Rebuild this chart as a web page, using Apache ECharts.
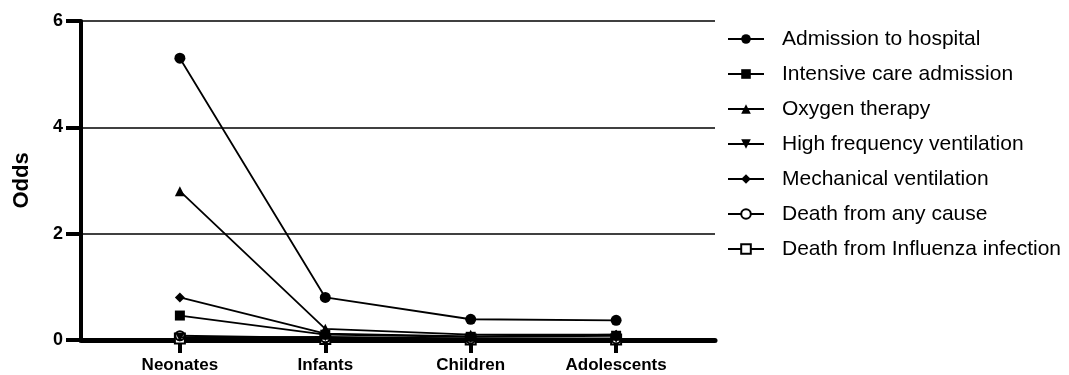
<!DOCTYPE html>
<html>
<head>
<meta charset="utf-8">
<script src="https://cdn.jsdelivr.net/npm/echarts@6/dist/echarts.min.js"></script>
<style>html,body{margin:0;padding:0;background:#fff}#c{width:1069px;height:375px}</style>
</head>
<body>
<div id="c"></div>
<script>
var categories = ['Neonates', 'Infants', 'Children', 'Adolescents'];
var yTicks = [0, 2, 4, 6];
var seriesNames = ['Admission to hospital', 'Intensive care admission', 'Oxygen therapy', 'High frequency ventilation', 'Mechanical ventilation', 'Death from any cause', 'Death from Influenza infection'];
var admission = [5.3, 0.8, 0.39, 0.37];
var intensiveCare = [0.46, 0.1, 0.06, 0.08];
var oxygen = [2.8, 0.21, 0.1, 0.1];
var highFreq = [0.05, 0.06, 0.03, 0.03];
var mechanical = [0.8, 0.12, 0.07, 0.1];
var deathAny = [0.08, 0.04, 0.02, 0.02];
var deathFlu = [0.03, 0.02, 0.01, 0.01];

var symbols = ['circle', 'rect', 'triangle', 'path://M0,0 L10,0 L5,10 Z', 'diamond', 'emptyCircle', 'emptyRect'];
var sizes = [11, 10, 10, 9, 10, 9, 10];
var values = [admission, intensiveCare, oxygen, highFreq, mechanical, deathAny, deathFlu];

var chart = echarts.init(document.getElementById('c'), null, {renderer: 'canvas'});
var series = values.map(function (arr, k) {
  return {
    name: seriesNames[k],
    type: 'line',
    data: arr.map(function (v, i) { return [i, v]; }),
    symbol: symbols[k],
    symbolSize: sizes[k],
    color: '#000',
    lineStyle: {color: '#000', width: k === 6 ? 3 : 1.8},
    itemStyle: {color: '#000', borderColor: '#000', borderWidth: k >= 5 ? 2.5 : 0},
    z: 10 - k
  };
});

chart.setOption({
  animation: false,
  backgroundColor: '#fff',
  grid: {left: 81, right: 354, top: 21, bottom: 35},
  xAxis: {
    type: 'value',
    min: -0.68,
    max: 3.68,
    splitLine: {show: false},
    axisLine: {show: true, onZero: false, lineStyle: {color: '#000', width: 5}},
    axisTick: {show: true, customValues: [0, 1, 2, 3], length: 13, lineStyle: {color: '#000', width: 4}},
    axisLabel: {
      customValues: [0, 1, 2, 3],
      margin: 17,
      color: '#000',
      fontFamily: 'Liberation Sans, Arial, sans-serif',
      fontWeight: 'bold',
      fontSize: 17,
      formatter: function (v) { return categories[Math.round(v)]; }
    }
  },
  yAxis: {
    type: 'value',
    min: yTicks[0],
    max: yTicks[yTicks.length - 1],
    interval: 2,
    name: 'Odds',
    nameLocation: 'middle',
    nameGap: 48,
    nameTextStyle: {color: '#000', fontFamily: 'Liberation Sans, Arial, sans-serif', fontWeight: 'bold', fontSize: 22},
    axisLine: {show: true, onZero: false, lineStyle: {color: '#000', width: 4}},
    axisTick: {show: true, length: 15, lineStyle: {color: '#000', width: 4}},
    axisLabel: {margin: 18, color: '#000', fontFamily: 'Liberation Sans, Arial, sans-serif', fontWeight: 'bold', fontSize: 18},
    splitLine: {show: true, lineStyle: {color: '#000', width: 1.5}}
  },
  legend: {
    orient: 'vertical',
    left: 727,
    top: 27,
    padding: 0,
    itemWidth: 36,
    itemHeight: 12,
    itemGap: 11,
    data: seriesNames,
    textStyle: {color: '#000', fontFamily: 'Liberation Sans, Arial, sans-serif', fontSize: 21, lineHeight: 24, padding: [0, 0, 0, 13]}
  },
  series: series
});
</script>
</body>
</html>
